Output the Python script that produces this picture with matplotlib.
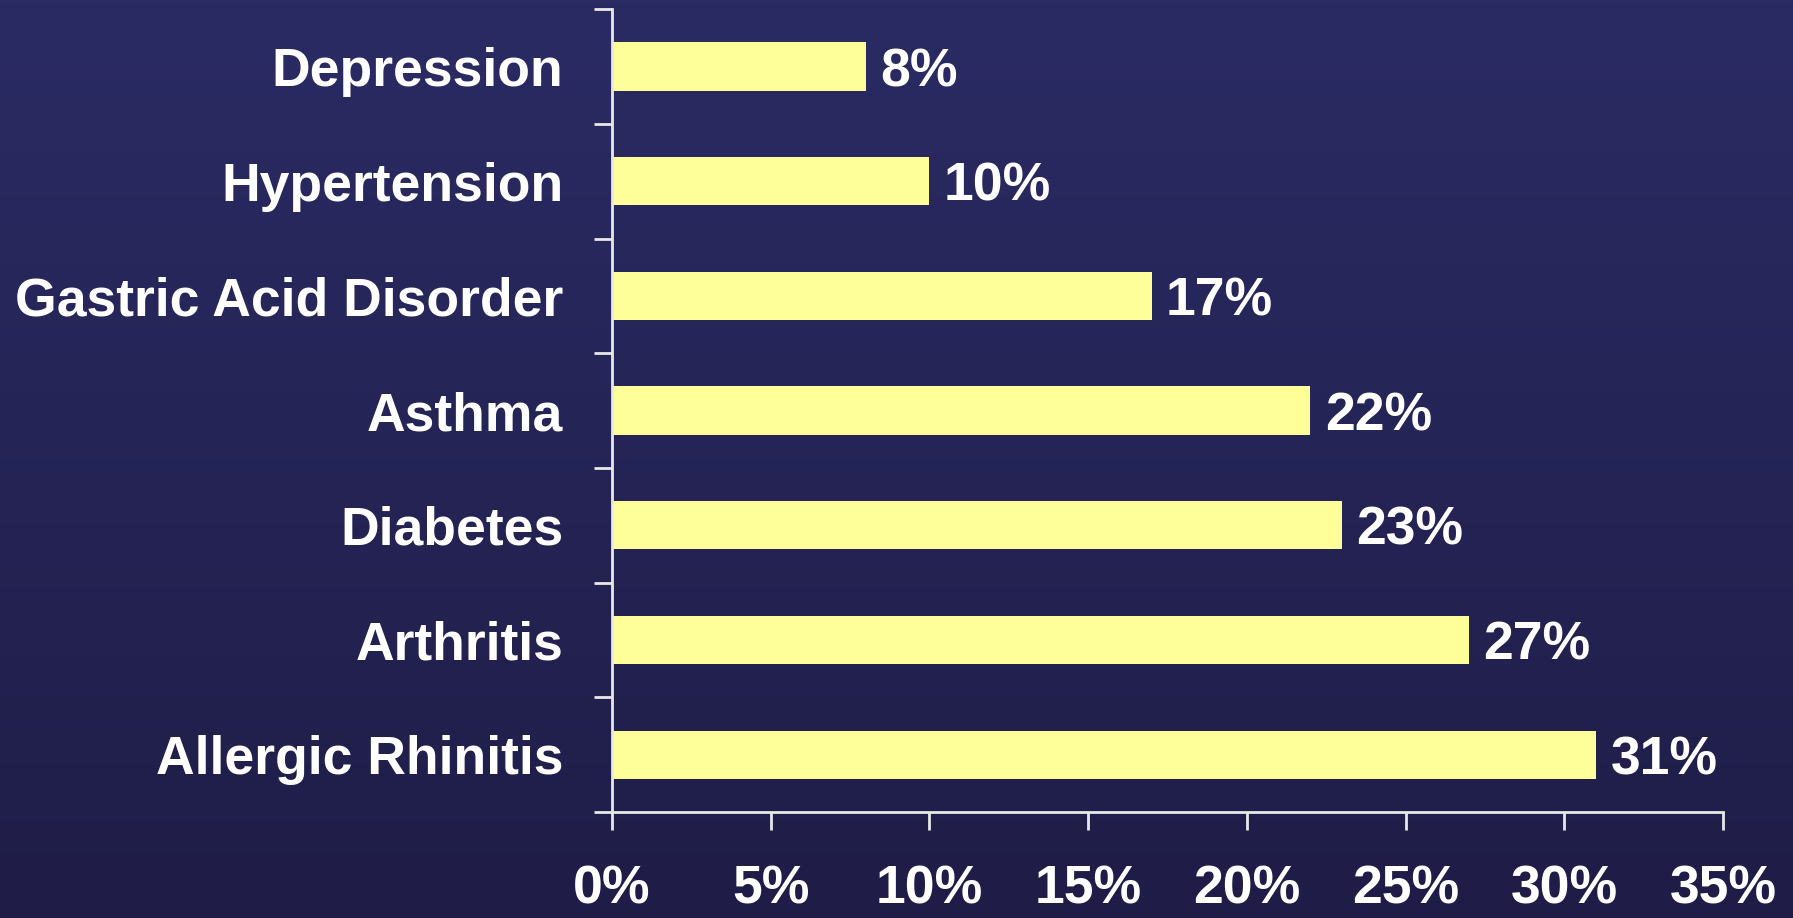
import numpy as np
import matplotlib.pyplot as plt
from matplotlib.colors import LinearSegmentedColormap

# data
categories = ["Depression", "Hypertension", "Gastric Acid Disorder", "Asthma",
              "Diabetes", "Arthritis", "Allergic Rhinitis"]
values = [8, 10, 17, 22, 23, 27, 31]
xticks = [0, 5, 10, 15, 20, 25, 30, 35]

plt.rcParams['font.family'] = ['Liberation Sans', 'DejaVu Sans']
plt.rcParams['font.weight'] = 'bold'

fig = plt.figure(figsize=(17.93, 9.18), dpi=100)

# gradient background
bg = fig.add_axes([0, 0, 1, 1], zorder=-1)
cmap = LinearSegmentedColormap.from_list("bg", ["#2b2b64", "#1f1d47"])
grad = np.linspace(0, 1, 256).reshape(-1, 1)
bg.imshow(grad, aspect='auto', cmap=cmap, extent=[0, 1, 0, 1])
bg.axis('off')

ax = fig.add_axes([0.3413, 0.1155, 0.6197, 0.8745])
ax.patch.set_alpha(0)

y = np.arange(len(categories))
ax.barh(y, values, height=0.42, color='#ffff99')
ax.set_ylim(len(categories) - 0.5, -0.5)
ax.set_xlim(0, 35)

for yi, v in zip(y, values):
    ax.text(v + 0.45, yi, f"{v}%", va='center_baseline', ha='left',
            color='white', fontsize=38.5, fontweight='bold')

ax.set_yticks(y)
ax.set_yticklabels(categories)
ax.set_yticks(np.arange(-0.5, len(categories)), minor=True)
ax.tick_params(axis='y', which='major', length=0, pad=35, labelsize=38.5,
               labelcolor='white')
ax.tick_params(axis='y', which='minor', length=13, width=2, color='#e8e8e8')

ax.set_xticks(xticks)
ax.set_xticklabels([f"{t}%" for t in xticks])
ax.tick_params(axis='x', length=13, width=2, color='#e8e8e8', pad=25,
               labelsize=38.5, labelcolor='white')

for s in ['top', 'right']:
    ax.spines[s].set_visible(False)
for s in ['left', 'bottom']:
    ax.spines[s].set_color('#e8e8e8')
    ax.spines[s].set_linewidth(2)

fig.savefig("out.png", dpi=100)
